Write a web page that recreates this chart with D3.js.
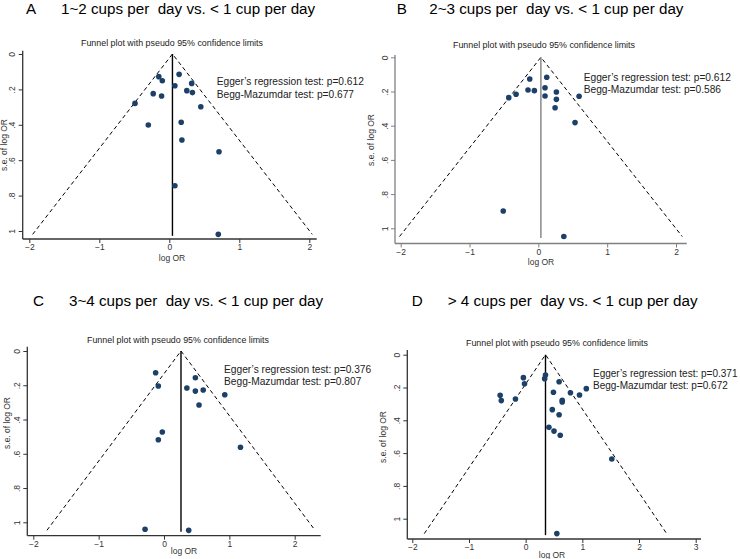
<!DOCTYPE html>
<html><head><meta charset="utf-8">
<script src="https://cdn.jsdelivr.net/npm/d3@7"></script>
<style>
html,body{margin:0;padding:0;background:#fff;}
text{font-family:"Liberation Sans",Arial,sans-serif;}
</style></head>
<body>
<svg id="chart" width="740" height="559"></svg>
<script>
// ---------------- DATA ----------------
const panelLetters = ["A", "B", "C", "D"];
const panelTitles = [
  "1~2 cups per\u00a0 day vs. < 1 cup per day",
  "2~3 cups per\u00a0 day vs. < 1 cup per day",
  "3~4 cups per\u00a0 day vs. < 1 cup per day",
  "> 4 cups per\u00a0 day vs. < 1 cup per day"
];
const subtitle = "Funnel plot with pseudo 95% confidence limits";
const eggerP = ["0.612", "0.612", "0.376", "0.371"];
const beggP = ["0.677", "0.586", "0.807", "0.672"];
const pooledLogOR = [0.045, 0.037, 0.26, 0.35];

const logOR_A = [-0.15, -0.10, 0.14, 0.08, 0.32, 0.25, 0.33, -0.23, -0.11, -0.49, 0.45, -0.30, 0.17, 0.18, 0.71, 0.08, 0.70];
const se_A    = [0.128, 0.151, 0.115, 0.179, 0.166, 0.207, 0.218, 0.224, 0.237, 0.279, 0.298, 0.401, 0.386, 0.486, 0.552, 0.744, 1.019];

const logOR_B = [-0.125, 0.122, -0.15, -0.058, -0.324, -0.43, 0.097, 0.097, 0.262, 0.262, 0.243, 0.592, 0.533, -0.51, 0.37];
const se_B    = [0.127, 0.117, 0.191, 0.195, 0.216, 0.236, 0.178, 0.226, 0.203, 0.246, 0.295, 0.228, 0.382, 0.899, 1.048];

const logOR_C = [-0.128, 0.48, -0.087, 0.35, 0.48, 0.60, 0.93, 0.536, -0.026, -0.087, 1.17, -0.29, 0.378];
const se_C    = [0.127, 0.156, 0.204, 0.216, 0.234, 0.228, 0.255, 0.315, 0.473, 0.518, 0.562, 1.041, 1.047];

const logOR_D = [0.35, 0.335, -0.04, -0.02, 0.59, 1.07, 0.49, 0.79, 0.95, -0.45, -0.43, -0.18, 0.645, 0.645, 0.47, 0.59, 0.41, 0.50, 0.61, 1.52, 0.55];
const se_D    = [0.124, 0.146, 0.140, 0.177, 0.165, 0.207, 0.229, 0.232, 0.246, 0.248, 0.280, 0.270, 0.278, 0.288, 0.335, 0.366, 0.443, 0.466, 0.491, 0.636, 1.091];

const xTicksABC = [-2, -1, 0, 1, 2];
const xTicksD = [-2, -1, 0, 1, 2, 3];
const yTicks = [0, 0.2, 0.4, 0.6, 0.8, 1];
const yTickLabels = ["0", ".2", ".4", ".6", ".8", "1"];
const xAxisTitle = "log OR";
const yAxisTitle = "s.e. of log OR";

// ---------------- LAYOUT ----------------
const layouts = [
  {xDom:[-2,2], xR:[29.3,309.3], yR:[54,231], axY:239, axX0:22.7, axX1:316.7, axTop:50.7,
   letterX:26, titleX:61, titleY:13.5, subX:172, subY:45.5, eggX:216.7, eggY:85,
   xlabX:172, xlabY:261, ylabX:7, ylabY:145, axisColor:"#333", vColor:"#000"},
  {xDom:[-2,2], xR:[400.7,676], yR:[57.3,228.3], axY:243.5, axX0:395, axX1:686.7, axTop:55,
   letterX:396.7, titleX:429.3, titleY:13.5, subX:544, subY:48, eggX:583.7, eggY:80.5,
   xlabX:541, xlabY:265, ylabX:374, ylabY:140, axisColor:"#808080", vColor:"#808080"},
  {xDom:[-2,2], xR:[33.3,294.7], yR:[351,522.3], axY:535.7, axX0:27.3, axX1:320.7, axTop:346.7,
   letterX:33, titleX:69, titleY:305.5, subX:178, subY:342.5, eggX:224, eggY:372.5,
   xlabX:184, xlabY:554, ylabX:10, ylabY:423, axisColor:"#333", vColor:"#000"},
  {xDom:[-2,3], xR:[412.3,695.7], yR:[354.7,518.7], axY:539, axX0:407.3, axX1:701, axTop:350,
   letterX:411.7, titleX:447.7, titleY:305.5, subX:557, subY:345.5, eggX:593, eggY:376.5,
   xlabX:552, xlabY:558, ylabX:386, ylabY:437, axisColor:"#333", vColor:"#000"}
];
const testFontSizes = [10.2, 10.2, 10.2, 10];

const panelData = [
  {lor: logOR_A, se: se_A, xt: xTicksABC},
  {lor: logOR_B, se: se_B, xt: xTicksABC},
  {lor: logOR_C, se: se_C, xt: xTicksABC},
  {lor: logOR_D, se: se_D, xt: xTicksD}
];

const svg = d3.select("#chart");
const dotColor = "#1d4068";

panelData.forEach((pd, i) => {
  const L = layouts[i];
  const g = svg.append("g");
  const x = d3.scaleLinear().domain(L.xDom).range(L.xR);
  const y = d3.scaleLinear().domain([0, 1]).range(L.yR);

  // titles
  g.append("text").attr("x", L.letterX).attr("y", L.titleY)
    .attr("font-size", 15.2).attr("fill", "#000").text(panelLetters[i]);
  g.append("text").attr("x", L.titleX).attr("y", L.titleY)
    .attr("font-size", 15.2).attr("fill", "#000").text(panelTitles[i]);
  g.append("text").attr("x", L.subX).attr("y", L.subY)
    .attr("text-anchor", "middle").attr("font-size", 8.8).attr("fill", "#222")
    .attr("textLength", 182).attr("lengthAdjust", "spacingAndGlyphs")
    .text(subtitle);

  // axes
  const xAxis = d3.axisBottom(x).tickValues(pd.xt).tickSize(4).tickSizeOuter(0)
    .tickFormat(d3.format("d"));
  const gx = g.append("g").attr("transform", `translate(0,${L.axY})`).call(xAxis);
  gx.select(".domain").remove();
  gx.selectAll(".tick line").attr("stroke", L.axisColor);
  gx.selectAll(".tick text").attr("font-size", 8.5).attr("fill", "#333")
    .attr("font-family", "Liberation Sans, Arial, sans-serif").attr("y", 5);

  const yAxis = d3.axisLeft(y).tickValues(yTicks).tickSize(4).tickSizeOuter(0)
    .tickFormat((d, k) => yTickLabels[k]);
  const gy = g.append("g").attr("transform", `translate(${L.axX0},0)`).call(yAxis);
  gy.select(".domain").remove();
  gy.selectAll(".tick line").attr("stroke", L.axisColor);
  gy.selectAll(".tick text").attr("font-size", 8.5).attr("fill", "#333")
    .attr("font-family", "Liberation Sans, Arial, sans-serif")
    .attr("transform", "rotate(-90)").attr("x", 0).attr("y", -7.5).attr("dy", 0)
    .attr("text-anchor", "middle");

  g.append("line").attr("x1", L.axX0).attr("x2", L.axX1).attr("y1", L.axY).attr("y2", L.axY)
    .attr("stroke", L.axisColor).attr("stroke-width", 1.3);
  g.append("line").attr("x1", L.axX0).attr("x2", L.axX0).attr("y1", L.axTop).attr("y2", L.axY)
    .attr("stroke", L.axisColor).attr("stroke-width", 1.3);

  g.append("text").attr("x", L.xlabX).attr("y", L.xlabY).attr("text-anchor", "middle")
    .attr("font-size", 8.5).attr("fill", "#333").text(xAxisTitle);
  g.append("text").attr("transform", `translate(${L.ylabX},${L.ylabY}) rotate(-90)`)
    .attr("text-anchor", "middle").attr("font-size", 8.5).attr("fill", "#333").text(yAxisTitle);

  // funnel
  const c = pooledLogOR[i];
  const seMax = d3.max(pd.se);
  const line = d3.line().x(d => x(d[0])).y(d => y(d[1]));
  g.append("path").attr("d", line([[c - 1.96 * seMax, seMax], [c, 0], [c + 1.96 * seMax, seMax]]))
    .attr("fill", "none").attr("stroke", "#000").attr("stroke-width", 1)
    .attr("stroke-dasharray", "4,3");
  g.append("line").attr("x1", x(c)).attr("x2", x(c)).attr("y1", y(0)).attr("y2", y(seMax) + 1.5)
    .attr("stroke", L.vColor).attr("stroke-width", 1.4);

  // points
  g.selectAll("circle.pt").data(pd.lor.map((v, k) => [v, pd.se[k]])).enter()
    .append("circle").attr("class", "pt")
    .attr("cx", d => x(d[0])).attr("cy", d => y(d[1])).attr("r", 2.8)
    .attr("fill", dotColor);

  // test results
  const tg = g.append("text").attr("x", L.eggX).attr("y", L.eggY)
    .attr("font-size", testFontSizes[i]).attr("fill", "#222");
  tg.append("tspan").attr("x", L.eggX).attr("dy", 0).text(`Egger\u2019s regression test: p=${eggerP[i]}`);
  tg.append("tspan").attr("x", L.eggX).attr("dy", 12.5).text(`Begg-Mazumdar test: p=${beggP[i]}`);
});
</script>
</body></html>
